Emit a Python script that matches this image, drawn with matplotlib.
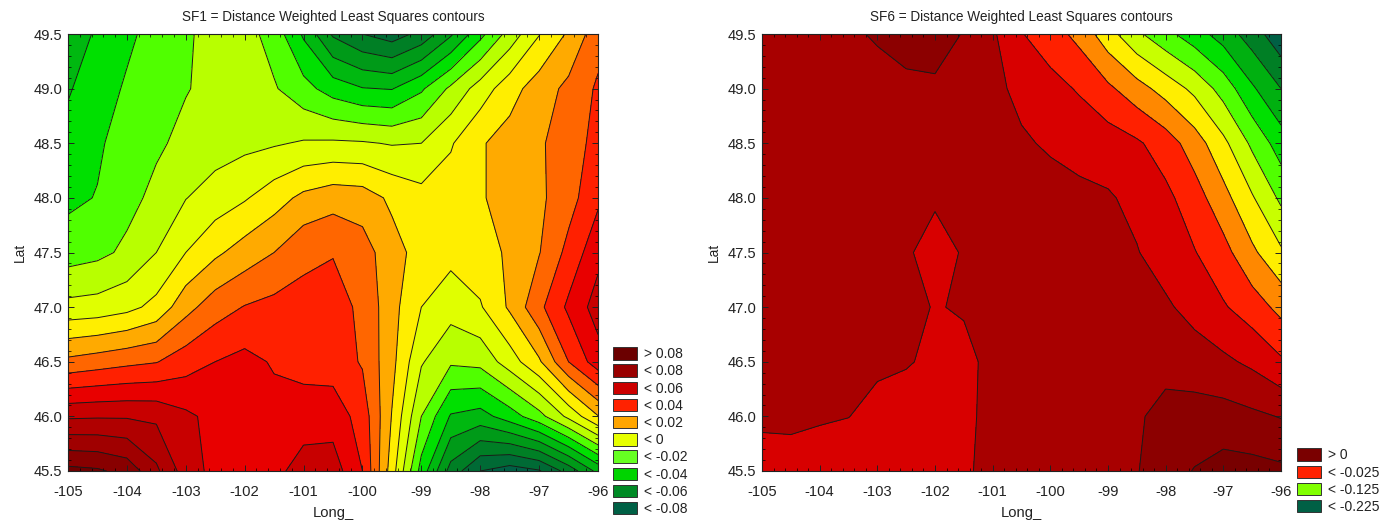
import numpy as np
import matplotlib
matplotlib.use("Agg")
import matplotlib.pyplot as plt
from matplotlib.patches import Patch
from matplotlib.ticker import MultipleLocator

plt.rcParams["font.family"] = ["Liberation Sans", "DejaVu Sans"]
plt.rcParams["axes.unicode_minus"] = False

lon = [-105, -104.5, -104, -103.5, -103, -102.5, -102, -101.5, -101, -100.5,
       -100, -99.5, -99, -98.5, -98, -97.5, -97, -96.5, -96]
lat = [49.5, 49.0, 48.5, 48.0, 47.5, 47.0, 46.5, 46.0, 45.5]

# SF1, in hundredths
sf1_495 = [-4.6, -3.85, -3.2, -2.64, -2.12, -1.7, -1.6, -2.42, -4.15, -6.15, -7.0, -7.5, -6.7, -5.15, -3.3, -1.6, -0.05, 1.15, 2.6]
sf1_490 = [-4.1, -3.45, -2.88, -2.47, -2.05, -1.75, -1.6, -1.9, -2.65, -3.45, -3.95, -4.05, -3.15, -1.8, -0.55, 0.6, 1.5, 2.25, 3.15]
sf1_485 = [-3.65, -3.15, -2.55, -2.15, -1.75, -1.45, -1.25, -1.1, -0.9, -0.85, -0.9, -1.07, -1.0, -0.1, 0.9, 1.4, 1.85, 2.55, 3.3]
sf1_480 = [-3.23, -2.95, -2.3, -1.75, -1.03, -0.55, -0.1, 0.55, 1.25, 1.6, 1.5, 0.8, 0.35, 0.5, 0.9, 1.4, 1.8, 2.6, 3.8]
sf1_475 = [-2.47, -2.25, -1.8, -1.0, 0.0, 0.8, 1.45, 2.0, 2.75, 2.95, 2.45, 1.4, 0.6, 0.3, 0.6, 1.15, 1.95, 3.3, 4.7]
sf1_470 = [-0.7, -0.6, -0.3, 0.3, 1.65, 2.55, 3.05, 3.3, 3.35, 3.4, 2.8, 1.35, 0.0, -0.6, -0.1, 1.15, 2.75, 4.2, 5.45]
sf1_465 = [2.25, 2.5, 2.75, 2.95, 3.55, 4.0, 4.3, 3.9, 3.65, 3.55, 2.9, 1.3, -0.9, -1.85, -1.7, -0.5, 0.85, 3.0, 4.55]
sf1_460 = [5.85, 5.9, 5.9, 5.8, 5.2, 4.7, 4.55, 4.35, 4.5, 4.55, 3.6, 0.95, -2.0, -4.1, -4.4, -3.5, -2.35, -0.75, 0.95]
sf1_455 = [9.3, 9.15, 8.65, 7.2, 5.5, 4.7, 4.6, 4.7, 5.45, 5.5, 4.0, 0.5, -3.4, -6.4, -8.0, -8.5, -8.1, -6.6, -4.7]

# SF6, in steps of 0.025
sf6_495 = [0.5, 0.6, 0.7, 0.85, 1.1, 1.35, 1.4, 0.95, 0.15, -0.95, -1.55, -2.3, -3.6, -4.8, -5.7, -6.55, -7.45, -8.5, -9.7]
sf6_490 = [0.4, 0.45, 0.5, 0.55, 0.65, 0.8, 0.85, 0.7, 0.2, -0.2, -0.65, -1.1, -1.8, -2.6, -3.4, -4.25, -5.4, -6.85, -8.0]
sf6_485 = [0.3, 0.3, 0.35, 0.4, 0.4, 0.45, 0.45, 0.45, 0.35, 0.1, -0.1, -0.3, -0.5, -0.85, -1.5, -2.5, -3.75, -5.2, -6.5]
sf6_480 = [0.25, 0.25, 0.25, 0.25, 0.3, 0.3, 0.15, 0.3, 0.35, 0.35, 0.3, 0.2, 0.1, -0.25, -0.75, -1.55, -2.65, -3.9, -5.2]
sf6_475 = [0.2, 0.2, 0.2, 0.2, 0.2, 0.15, -0.45, 0.1, 0.35, 0.4, 0.4, 0.35, 0.25, 0.05, -0.45, -0.95, -1.65, -2.8, -3.85]
sf6_470 = [0.15, 0.2, 0.2, 0.2, 0.2, 0.15, -0.03, 0.05, 0.3, 0.4, 0.45, 0.45, 0.4, 0.3, 0.15, -0.35, -0.9, -1.5, -2.3]
sf6_465 = [0.4, 0.4, 0.4, 0.35, 0.2, 0.08, -0.2, -0.15, 0.15, 0.35, 0.5, 0.55, 0.6, 0.6, 0.75, 0.5, 0.2, -0.2, -0.85]
sf6_460 = [0.25, 0.35, 0.15, 0.02, -0.35, -0.5, -0.55, -0.2, 0.25, 0.45, 0.55, 0.65, 0.75, 0.9, 1.25, 1.4, 1.4, 1.2, 0.95]
sf6_455 = [-0.6, -0.7, -0.75, -0.75, -0.75, -0.7, -0.65, -0.15, 0.3, 0.5, 0.6, 0.7, 0.85, 0.95, 1.55, 2.05, 2.4, 2.35, 2.2]

sf1_levels = [-10, -8, -7, -6, -5, -4, -3, -2, -1, 0, 1, 2, 3, 4, 5, 6, 7, 8, 9, 10]
sf1_colors = ["#006045", "#006a35", "#007f25", "#009a18", "#00b810", "#00e000", "#50ff00", "#b8ff00", "#e0ff00",
              "#ffee00", "#ffaa00", "#ff6600", "#ff2000", "#e80000", "#c80000", "#b00000", "#a00000", "#880000", "#700000"]
sf6_levels = [-10, -9, -8, -7, -6, -5, -4, -3, -2, -1, 0, 1, 2, 3]
sf6_colors = ["#006045", "#007f25", "#00b010", "#00e000", "#50ff00", "#c8ff00", "#ffee00", "#ff8800", "#ff2000",
              "#d80000", "#a80000", "#8c0000", "#780000"]

sf1_labels = ["> 0.08", "< 0.08", "< 0.06", "< 0.04", "< 0.02", "< 0", "< -0.02", "< -0.04", "< -0.06", "< -0.08"]
sf1_legend = ["#6b0000", "#990000", "#cc0000", "#ff2200", "#ffa500", "#e6ff00", "#66ff22", "#00d400", "#008a25", "#006045"]
sf6_labels = ["> 0", "< -0.025", "< -0.125", "< -0.225"]
sf6_legend = ["#7a0000", "#ff2200", "#80ff00", "#006045"]

sf1 = np.array([sf1_495, sf1_490, sf1_485, sf1_480, sf1_475, sf1_470, sf1_465, sf1_460, sf1_455])
sf6 = np.array([sf6_495, sf6_490, sf6_485, sf6_480, sf6_475, sf6_470, sf6_465, sf6_460, sf6_455])

W, H = 1396, 520
fig = plt.figure(figsize=(W / 100, H / 100), dpi=100)


def panel(x0, width, z, levels, colors, title, labels, legend_colors, leg_x, leg_y):
    ax = fig.add_axes([x0 / W, 49 / H, width / W, 437 / H])
    ax.contourf(lon, lat, z, levels=levels, colors=colors)
    ax.contour(lon, lat, z, levels=levels, colors="#1a1a1a", linewidths=0.7, linestyles="solid")
    ax.set_xlim(-105, -96)
    ax.set_ylim(45.5, 49.5)
    ax.xaxis.set_major_locator(MultipleLocator(1))
    ax.xaxis.set_minor_locator(MultipleLocator(0.2))
    ax.yaxis.set_major_locator(MultipleLocator(0.5))
    ax.yaxis.set_minor_locator(MultipleLocator(0.1))
    ax.tick_params(which="major", direction="in", length=4, width=0.7, top=True, right=True,
                   labelsize=10.6, colors="#222222")
    ax.tick_params(which="minor", direction="in", length=2, width=0.5, top=True, right=True)
    ax.tick_params(axis="x", which="major", pad=10)
    ax.tick_params(axis="y", which="major", pad=4)
    for s in ax.spines.values():
        s.set_linewidth(0.8)
        s.set_color("#222222")
    ax.set_title(title, fontsize=9.8, pad=9, color="#222222")
    ax.set_xlabel("Long_", fontsize=10.6, labelpad=5, color="#222222")
    ax.set_ylabel("Lat", fontsize=9.8, labelpad=5, color="#222222")
    handles = [Patch(facecolor=c, edgecolor="#333333", linewidth=0.7) for c in legend_colors]
    ax.legend(handles, labels, loc="lower left", bbox_to_anchor=(leg_x / W, leg_y / H),
              bbox_transform=fig.transFigure, frameon=False, fontsize=10, handlelength=1.7,
              handleheight=1.0, labelspacing=0.23, handletextpad=0.55, borderpad=0, borderaxespad=0,
              labelcolor="#222222")
    return ax


panel(68, 530, sf1, sf1_levels, sf1_colors, "SF1 = Distance Weighted Least Squares contours",
      sf1_labels, sf1_legend, 613, 4)
panel(762, 519, sf6, sf6_levels, sf6_colors, "SF6 = Distance Weighted Least Squares contours",
      sf6_labels, sf6_legend, 1297, 6)

fig.savefig("out.png", dpi=100)
